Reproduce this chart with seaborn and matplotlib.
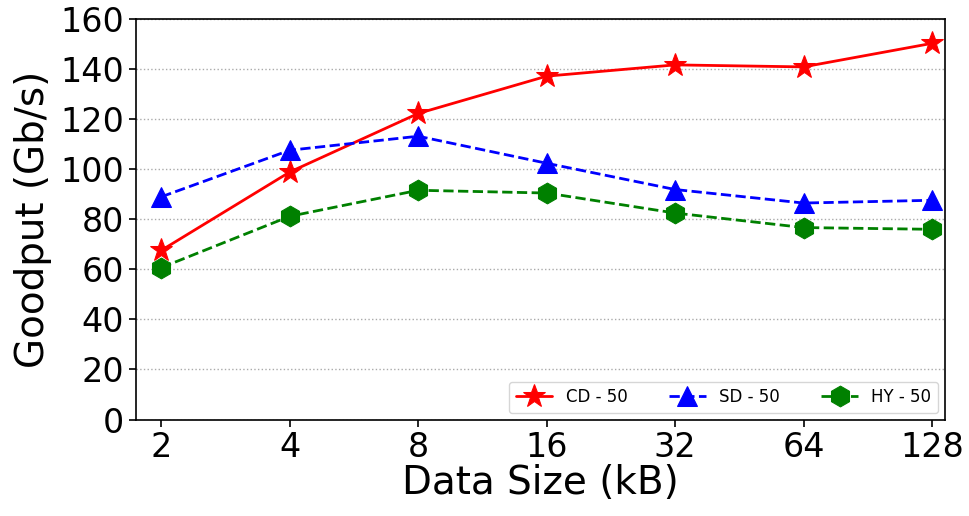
import pandas as pd
import matplotlib
matplotlib.use("Agg")
import matplotlib.pyplot as plt
import seaborn as sns

sizes = ["2", "4", "8", "16", "32", "64", "128"]
cd_50 = [67.6, 98.9, 122.3, 137.2, 141.7, 140.9, 150.3]
sd_50 = [89.0, 107.6, 113.2, 102.4, 91.9, 86.5, 87.6]
hy_50 = [60.7, 81.2, 91.6, 90.5, 82.5, 76.7, 76.0]

sns.set_style("white")
plt.rcParams['font.family'] = ['DejaVu Sans']
plt.rcParams['text.color'] = 'black'
plt.rcParams['axes.labelcolor'] = 'black'
plt.rcParams['xtick.color'] = 'black'
plt.rcParams['ytick.color'] = 'black'

fig, ax = plt.subplots(figsize=(9.69, 5.16), dpi=100)

pos = list(range(len(sizes)))
series = [
    ("CD - 50", cd_50, "red", "*", "-", 17),
    ("SD - 50", sd_50, "blue", "^", "--", 15),
    ("HY - 50", hy_50, "green", "h", "--", 15),
]
for name, vals, col, mk, ls, ms in series:
    df = pd.DataFrame({"x": pos, "y": vals})
    sns.lineplot(data=df, x="x", y="y", ax=ax, color=col, marker=mk,
                 linestyle=ls, markersize=ms, linewidth=2, label=name,
                 markeredgecolor=col)

ax.set_xticks(pos)
ax.set_xticklabels(sizes)
ax.set_xlim(-0.2, 6.1)
ax.set_ylim(0, 160)
ax.set_yticks(range(0, 161, 20))
ax.tick_params(axis="both", labelsize=24, length=5, width=1.2, left=True, bottom=True)
ax.set_xlabel("Data Size (kB)", fontsize=28, labelpad=0)
ax.set_ylabel("Goodput (Gb/s)", fontsize=28, labelpad=6)
ax.yaxis.grid(True, linestyle=":", color="#aaaaaa", linewidth=1)
ax.xaxis.grid(False)
for s in ax.spines.values():
    s.set_color("black")
    s.set_linewidth(1.2)

ax.legend(loc="lower right", ncol=3, fontsize=12, frameon=True,
          handlelength=2.2, columnspacing=2.5, borderaxespad=0.4)

plt.subplots_adjust(left=0.14, right=0.975, top=0.963, bottom=0.187)
fig.savefig("out.png", dpi=100)
